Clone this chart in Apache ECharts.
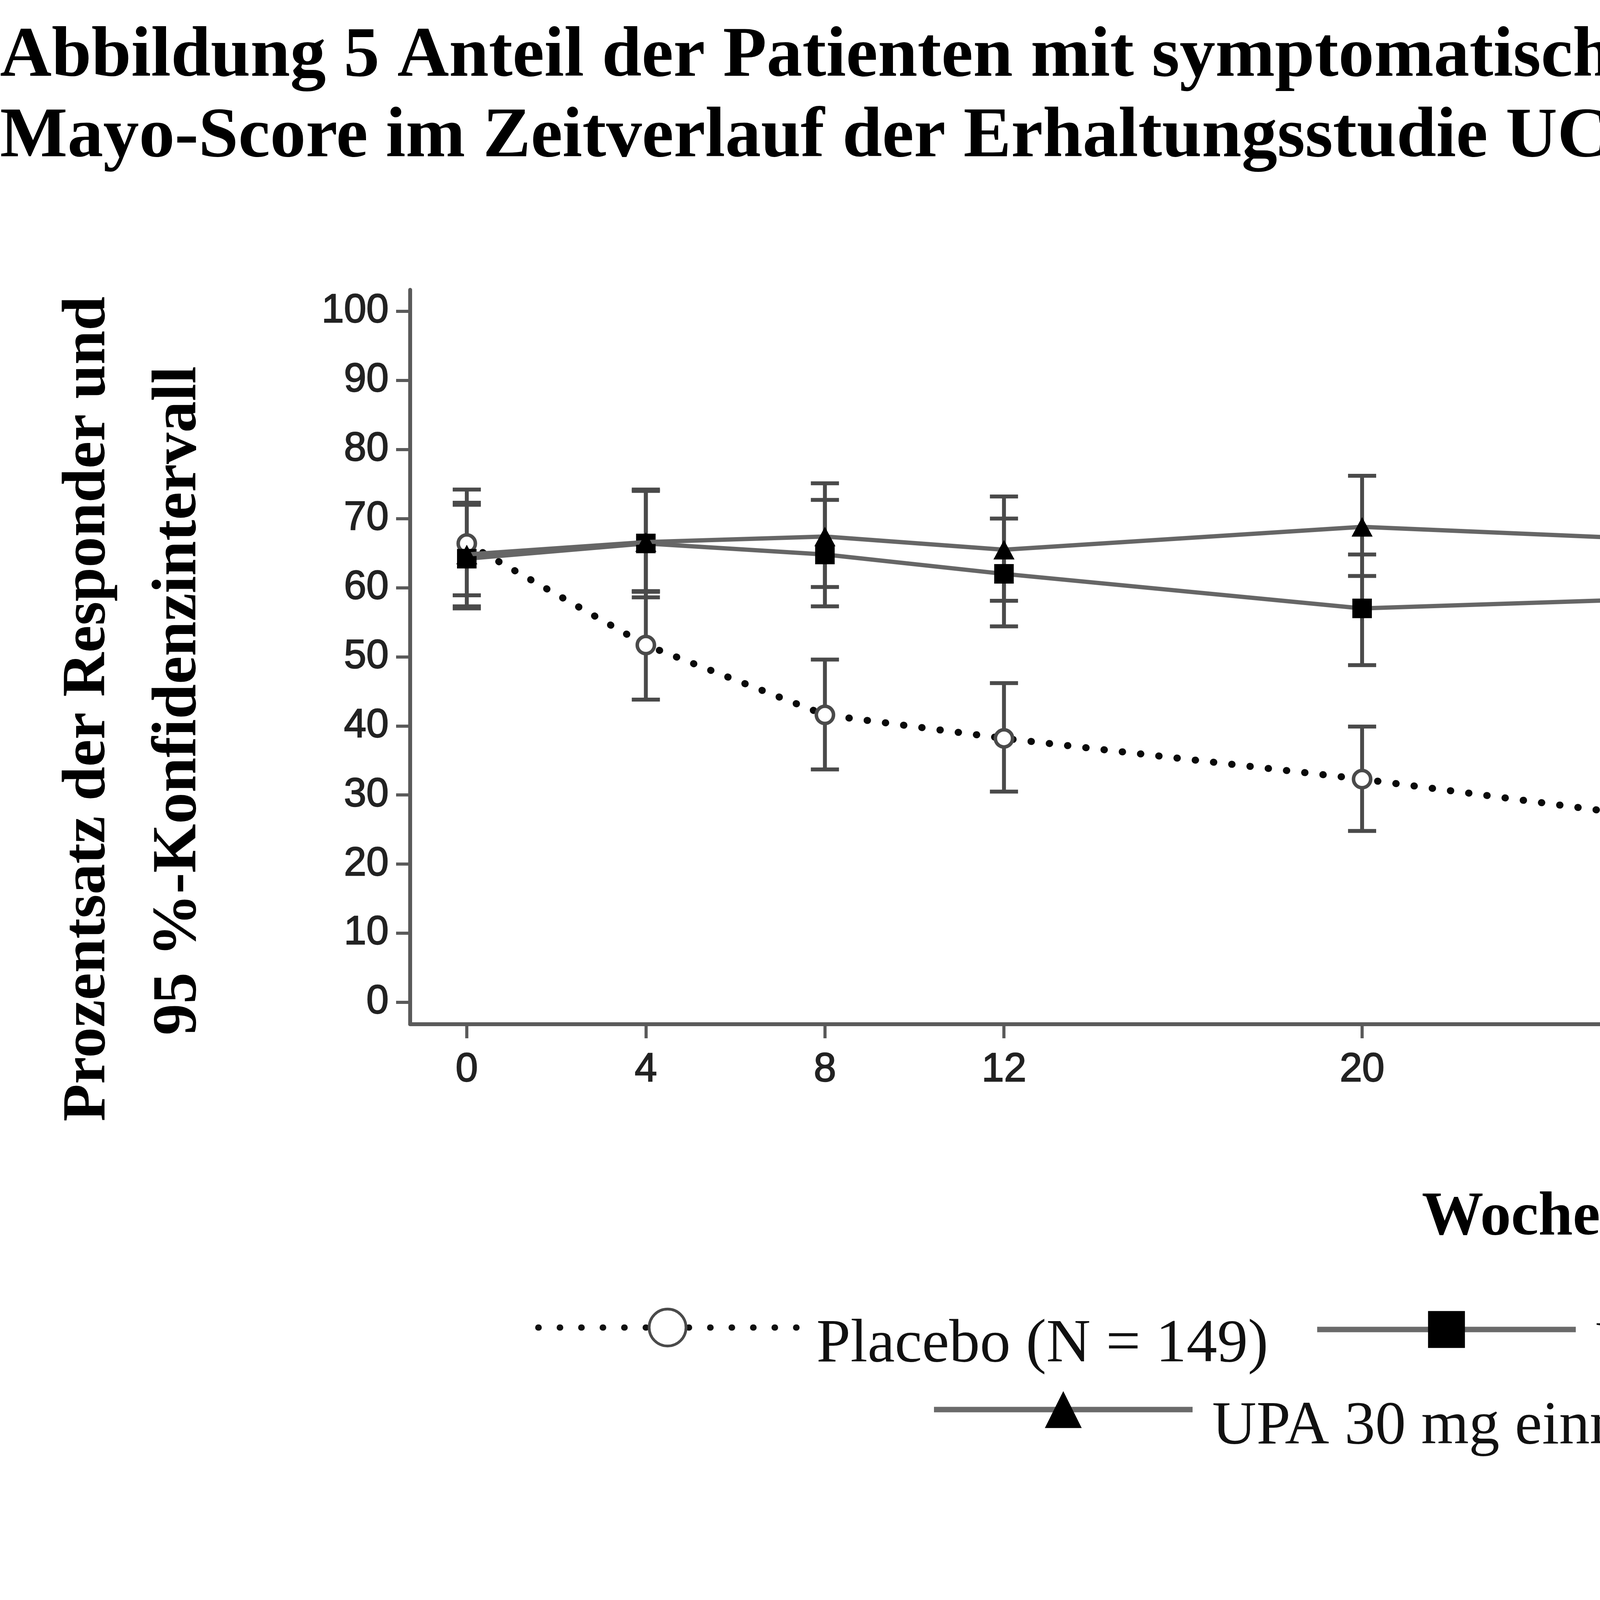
<!DOCTYPE html>
<html>
<head>
<meta charset="utf-8">
<script src="https://cdn.jsdelivr.net/npm/echarts@6/dist/echarts.min.js"></script>
<style>
html,body{margin:0;padding:0;background:#fff;}
#c{width:7558px;height:4131px;}
</style>
</head>
<body>
<div id="c"></div>
<script>
// ---- data ----
const weeks = [0, 4, 8, 12, 20, 28, 36, 44, 52];
const yTicks = [0, 10, 20, 30, 40, 50, 60, 70, 80, 90, 100];
const seriesNames = ['Placebo (N = 149)', 'UPA 15 mg einmal täglich (N = 148)', 'UPA 30 mg einmal täglich (N = 154)'];
const placebo   = [66.4, 51.7, 41.6, 38.2, 32.3, 25.5, 22.8, 16.8, 17.5];
const placeboLo = [58.9, 43.8, 33.7, 30.5, 24.8, 18.5, 16.0, 10.9, 11.3];
const placeboHi = [74.2, 59.4, 49.6, 46.2, 39.9, 32.6, 29.6, 22.7, 23.8];
const upa15   = [64.2, 66.4, 64.8, 62.0, 57.0, 58.7, 55.3, 53.3, 57.4];
const upa15Lo = [57.0, 58.6, 57.3, 54.4, 48.8, 50.9, 47.5, 45.4, 49.5];
const upa15Hi = [72.0, 74.0, 72.7, 70.0, 64.8, 66.5, 63.2, 61.4, 65.3];
const upa30   = [64.8, 66.6, 67.4, 65.5, 68.8, 66.6, 64.2, 65.0, 64.5];
const upa30Lo = [57.3, 59.5, 60.1, 58.1, 61.7, 59.2, 56.6, 57.4, 56.9];
const upa30Hi = [72.3, 74.2, 75.1, 73.2, 76.2, 74.2, 71.9, 72.7, 72.2];

const titleText = 'Abbildung 5 Anteil der Patienten mit symptomatischer Remission gemäß partiellem adaptierten\nMayo-Score im Zeitverlauf der Erhaltungsstudie UC-3';
const yTitle1 = 'Prozentsatz der Responder und';
const yTitle2 = '95 %-Konfidenzintervall';
const xTitle = 'Wochen';

// ---- helpers ----
const SERIF = '"Liberation Serif", "DejaVu Serif", serif';
const SANS = '"Liberation Sans", Arial, sans-serif';
const tickFont = { fontFamily: SANS, fontSize: 103, color: '#222', textBorderColor: '#222', textBorderWidth: 2.5 };
const endFont = { fontFamily: SANS, fontSize: 95, color: '#222', textBorderColor: '#222', textBorderWidth: 2.5 };

function pts(vals, labelOffset) {
  return weeks.map((w, i) => {
    const item = { value: [w, vals[i]] };
    if (i === weeks.length - 1) {
      item.label = Object.assign({
        show: true, position: 'right', distance: 16, offset: [0, labelOffset],
        formatter: p => p.value[1].toFixed(1)
      }, endFont);
    }
    return item;
  });
}
function ci(lo, hi) { return weeks.map((w, i) => [w, lo[i], hi[i]]); }

function errRender(params, api) {
  const x = api.value(0), lo = api.value(1), hi = api.value(2);
  const a = api.coord([x, hi]), b = api.coord([x, lo]);
  const hw = 36;
  const style = { stroke: '#4a4a4a', lineWidth: 10 };
  return { type: 'group', children: [
    { type: 'line', shape: { x1: a[0], y1: a[1], x2: b[0], y2: b[1] }, style },
    { type: 'line', shape: { x1: a[0] - hw, y1: a[1], x2: a[0] + hw, y2: a[1] }, style },
    { type: 'line', shape: { x1: b[0] - hw, y1: b[1], x2: b[0] + hw, y2: b[1] }, style }
  ]};
}

const legendText = { fontFamily: SERIF, fontSize: 157, color: '#111', lineHeight: 90, padding: [0, 0, 0, 45] };
function mkLegend(name, left, top, lineStyle) {
  return {
    data: [name], left, top, padding: 0, orient: 'horizontal',
    itemWidth: 662, itemHeight: 118, selectedMode: false,
    formatter: n => '\n' + n,
    textStyle: legendText, lineStyle,
    itemStyle: { borderWidth: 7 }
  };
}

const chart = echarts.init(document.getElementById('c'), null, { renderer: 'canvas' });
chart.setOption({
  animation: false,
  backgroundColor: '#fff',
  title: {
    text: titleText, left: 0, top: 44, padding: 0,
    textStyle: { fontFamily: SERIF, fontWeight: 'bold', fontSize: 183, lineHeight: 206, color: '#000' }
  },
  grid: { left: 1050, right: 154, top: 742, bottom: 1509, containLabel: false },
  xAxis: {
    type: 'value', min: -1.265, max: 54.18,
    splitLine: { show: false },
    axisLine: { show: true, onZero: false, lineStyle: { color: '#5a5a5a', width: 10 } },
    axisTick: { show: true, customValues: weeks, length: 36, lineStyle: { color: '#5a5a5a', width: 8 } },
    axisLabel: Object.assign({ customValues: weeks, margin: 66 }, tickFont)
  },
  yAxis: {
    type: 'value', min: -3.166, max: 103.1,
    splitLine: { show: false },
    axisLine: { show: true, onZero: false, lineStyle: { color: '#5a5a5a', width: 10 } },
    axisTick: { show: true, customValues: yTicks, length: 36, lineStyle: { color: '#5a5a5a', width: 8 } },
    axisLabel: Object.assign({ customValues: yTicks, margin: 55 }, tickFont)
  },
  legend: [
    mkLegend(seriesNames[0], 1370, 3275, { color: '#111', width: 16, type: [1, 54], cap: 'round' }),
    mkLegend(seriesNames[1], 3365, 3280, { color: '#6a6a6a', width: 14, type: 'solid' }),
    mkLegend(seriesNames[2], 2384, 3485, { color: '#6a6a6a', width: 14, type: 'solid' })
  ],
  graphic: [
    { type: 'text', x: 226, y: 1815, rotation: Math.PI / 2,
      style: { text: yTitle1, fontFamily: SERIF, fontWeight: 'bold', fontSize: 157, fill: '#000', align: 'center', verticalAlign: 'middle' } },
    { type: 'text', x: 458, y: 1794, rotation: Math.PI / 2,
      style: { text: yTitle2, fontFamily: SERIF, fontWeight: 'bold', fontSize: 161, fill: '#000', align: 'center', verticalAlign: 'middle' } },
    { type: 'text', x: 3912, y: 3119,
      style: { text: xTitle, fontFamily: SERIF, fontWeight: 'bold', fontSize: 158, fill: '#000', align: 'center', verticalAlign: 'middle' } }
  ],
  series: [
    { type: 'custom', name: 'ci-placebo', renderItem: errRender, data: ci(placeboLo, placeboHi), encode: { x: 0, y: [1, 2] }, z: 1, silent: true },
    { type: 'custom', name: 'ci-upa15', renderItem: errRender, data: ci(upa15Lo, upa15Hi), encode: { x: 0, y: [1, 2] }, z: 1, silent: true },
    { type: 'custom', name: 'ci-upa30', renderItem: errRender, data: ci(upa30Lo, upa30Hi), encode: { x: 0, y: [1, 2] }, z: 1, silent: true },
    { type: 'line', name: seriesNames[0], data: pts(placebo, -60), z: 3,
      symbol: 'circle', symbolSize: 44,
      lineStyle: { color: '#0a0a0a', width: 18, type: [1, 46], cap: 'round' },
      itemStyle: { color: '#fff', borderColor: '#4a4a4a', borderWidth: 9 } },
    { type: 'line', name: seriesNames[1], data: pts(upa15, 61), z: 4,
      symbol: 'rect', symbolSize: 50,
      lineStyle: { color: '#666', width: 11 },
      itemStyle: { color: '#000', borderWidth: 0 } },
    { type: 'line', name: seriesNames[2], data: pts(upa30, -58), z: 5,
      symbol: 'triangle', symbolSize: [54, 50],
      lineStyle: { color: '#666', width: 11 },
      itemStyle: { color: '#000', borderWidth: 0 } }
  ]
});
</script>
</body>
</html>
